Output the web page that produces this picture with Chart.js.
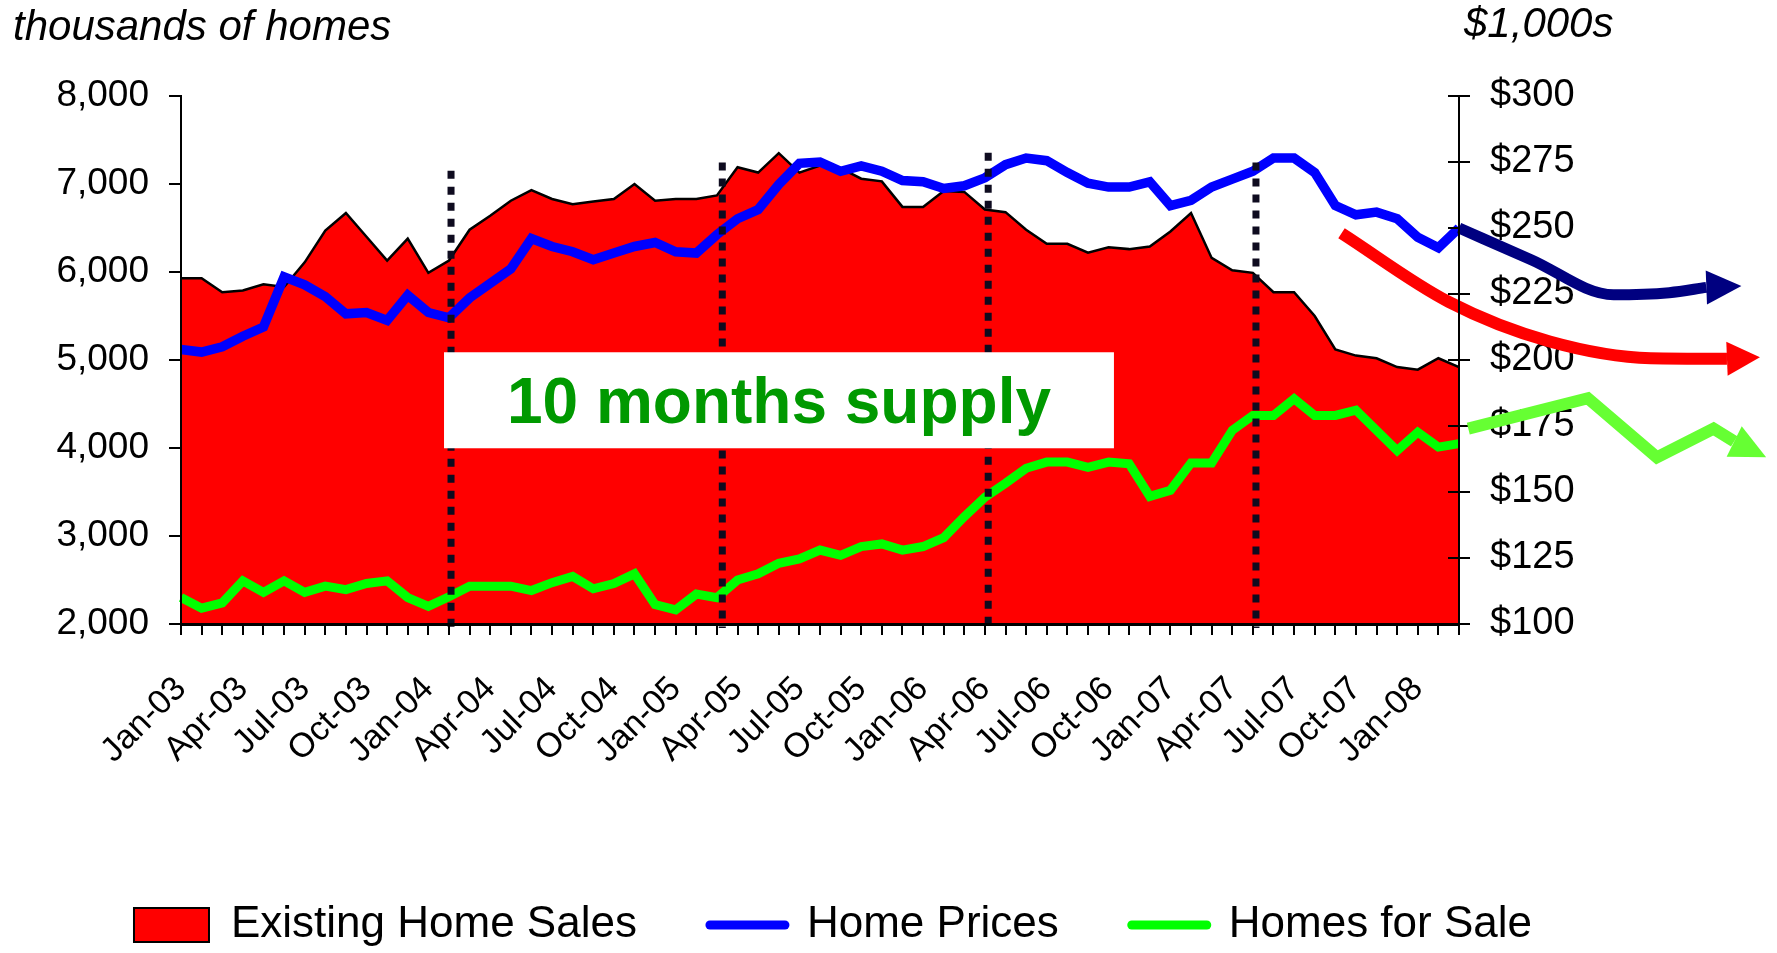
<!DOCTYPE html>
<html>
<head>
<meta charset="utf-8">
<script src="https://cdn.jsdelivr.net/npm/chart.js@4.4.1/dist/chart.umd.min.js"></script>
<style>
  html, body { margin: 0; padding: 0; background: #ffffff; overflow: hidden; }
  #wrap { width: 1777px; height: 953px; position: relative; }
</style>
</head>
<body>
<div id="wrap"><canvas id="chart"></canvas></div>
<script>
// ---------------- data ----------------
const months = [
  'Jan-03','Feb-03','Mar-03','Apr-03','May-03','Jun-03','Jul-03','Aug-03','Sep-03','Oct-03','Nov-03','Dec-03',
  'Jan-04','Feb-04','Mar-04','Apr-04','May-04','Jun-04','Jul-04','Aug-04','Sep-04','Oct-04','Nov-04','Dec-04',
  'Jan-05','Feb-05','Mar-05','Apr-05','May-05','Jun-05','Jul-05','Aug-05','Sep-05','Oct-05','Nov-05','Dec-05',
  'Jan-06','Feb-06','Mar-06','Apr-06','May-06','Jun-06','Jul-06','Aug-06','Sep-06','Oct-06','Nov-06','Dec-06',
  'Jan-07','Feb-07','Mar-07','Apr-07','May-07','Jun-07','Jul-07','Aug-07','Sep-07','Oct-07','Nov-07','Dec-07',
  'Jan-08','Feb-08','Mar-08'
];

// thousands of homes (left axis)
const existingHomeSales = [
  5930,5930,5770,5790,5860,5830,6110,6470,6670,6400,
  6130,6380,5990,6130,6480,6640,6810,6930,6830,6770,
  6800,6830,7000,6810,6830,6830,6870,7190,7130,7350,
  7130,7210,7180,7060,7030,6740,6740,6920,6910,6710,
  6680,6480,6320,6320,6220,6280,6260,6290,6460,6670,
  6160,6020,5990,5770,5770,5500,5120,5050,5020,4920,
  4890,5020,4920
];

// $1,000s (right axis)
const homePrices = [
  204,203,205,209,212.5,231.5,228.5,224,217.5,218,
  215,224.5,218,216,223.5,229,234.5,246,243,241,
  238,240.5,243,244.5,241,240.5,247.5,253.5,257,266.5,
  274.5,275,271.5,273.5,271.5,268,267.5,265,266,269,
  274,276.5,275.5,271,267,265.5,265.5,267.5,258.5,260.5,
  265.5,268.5,271.5,276.5,276.5,271,258.5,255,256,253.5,
  246.5,242.5,250
];

// thousands of homes (left axis)
const homesForSale = [
  2300,2180,2240,2490,2360,2490,2360,2430,2390,2460,
  2490,2300,2200,2310,2430,2430,2430,2380,2470,2540,
  2400,2460,2570,2220,2160,2340,2300,2500,2570,2690,
  2740,2840,2780,2880,2910,2840,2880,2980,3220,3440,
  3600,3770,3840,3840,3780,3840,3820,3450,3520,3830,
  3830,4200,4370,4370,4560,4370,4370,4430,4200,3970,
  4180,4010,4050
];

// forecast arrows (month position, value)
const priceForecastMonths = [62, 65.5, 69.5, 72.2, 74.0];
const priceForecast       = [250, 238, 224.7, 225.5, 227.5];
const priceForecastTip    = [75.7, 228];

const salesForecastMonths = [56.3, 61.5, 66.4, 71.3, 75.0];
const salesForecast       = [248, 222, 207, 200.7, 200.5];
const salesForecastTip    = [76.6, 201];

const supplyForecastMonths = [62.45, 68.25, 71.6, 74.35, 75.35];
const supplyForecast       = [4220, 4565, 3895, 4220, 4075];
const supplyForecastTip    = [76.9, 3895];

// axis tick values
const leftTicks  = [2000, 3000, 4000, 5000, 6000, 7000, 8000];
const rightTicks = [100, 125, 150, 175, 200, 225, 250, 275, 300];

// annotations
const dividerMonths = [13.1, 26.26, 39.16, 52.15];
const dividerTops   = [7150, 7245, 7355, 7245];
const noteText = '10 months supply';
const noteBox = { from: 12.76, to: 45.26, top: 5088, bottom: 3997 };

const seriesNames = ['Existing Home Sales', 'Home Prices', 'Homes for Sale'];

// ---------------- styling ----------------
const SANS = "'Liberation Sans', Arial, sans-serif";
const RED = '#ff0000', BLUE = '#0000ff', GREEN = '#00ff00';
const NAVY = '#000080', LIME = '#66ff33';

const toXY = (xs, ys) => xs.map((v, i) => ({ x: v, y: ys[i] }));
const idx = months.map((m, i) => i);

const forecastBase = {
  pointRadius: 0, fill: false, clip: false, capBezierPoints: false, order: 0
};

const overlay = {
  id: 'overlay',
  afterDatasetsDraw(chart) {
    const { ctx, chartArea, scales } = chart;
    const x = scales.x, y = scales.y, y2 = scales.y2;
    ctx.save();

    // dotted dividers
    ctx.strokeStyle = '#0e0b1f';
    ctx.lineWidth = 7;
    ctx.setLineDash([8, 8]);
    dividerMonths.forEach((m, k) => {
      const px = x.getPixelForValue(m);
      ctx.beginPath();
      ctx.moveTo(px, y.getPixelForValue(dividerTops[k]));
      ctx.lineTo(px, chartArea.bottom + 4);
      ctx.stroke();
    });
    ctx.setLineDash([]);

    // note box
    const bx1 = x.getPixelForValue(noteBox.from), bx2 = x.getPixelForValue(noteBox.to);
    const by1 = y.getPixelForValue(noteBox.top), by2 = y.getPixelForValue(noteBox.bottom);
    ctx.fillStyle = '#ffffff';
    ctx.fillRect(bx1, by1, bx2 - bx1, by2 - by1);
    ctx.fillStyle = '#009900';
    ctx.font = 'bold 64px ' + SANS;
    ctx.textAlign = 'center';
    ctx.textBaseline = 'alphabetic';
    ctx.fillText(noteText, (bx1 + bx2) / 2, (by1 + by2) / 2 + 23);

    // arrowheads
    const heads = [
      { ds: 3, tip: priceForecastTip, axis: y2, color: NAVY },
      { ds: 4, tip: salesForecastTip, axis: y2, color: RED },
      { ds: 5, tip: supplyForecastTip, axis: y, color: LIME }
    ];
    heads.forEach(h => {
      const pts = chart.getDatasetMeta(h.ds).data;
      const base = pts[pts.length - 1];
      const tx = x.getPixelForValue(h.tip[0]), ty = h.axis.getPixelForValue(h.tip[1]);
      const dx = tx - base.x, dy = ty - base.y;
      const len = Math.hypot(dx, dy) || 1;
      const nx = -dy / len * 17, ny = dx / len * 17;
      ctx.fillStyle = h.color;
      ctx.beginPath();
      ctx.moveTo(base.x + nx, base.y + ny);
      ctx.lineTo(tx, ty);
      ctx.lineTo(base.x - nx, base.y - ny);
      ctx.closePath();
      ctx.fill();
    });

    // inner tick marks of right axis
    ctx.strokeStyle = '#000';
    ctx.lineWidth = 2;
    y2.ticks.forEach((t, i) => {
      const py = y2.getPixelForTick(i);
      ctx.beginPath();
      ctx.moveTo(chartArea.right, py);
      ctx.lineTo(chartArea.right - 11, py);
      ctx.stroke();
    });

    // axis unit titles
    ctx.fillStyle = '#000';
    ctx.textAlign = 'left';
    ctx.textBaseline = 'alphabetic';
    ctx.font = 'italic 42px ' + SANS;
    ctx.fillText('thousands of homes', 13, 40);
    ctx.fillText('$1,000s', chartArea.right + 5, 37);
    ctx.restore();
  }
};

new Chart(document.getElementById('chart'), {
  type: 'line',
  data: {
    datasets: [
      {
        label: seriesNames[0],
        data: toXY(idx, existingHomeSales),
        yAxisID: 'y',
        borderColor: '#000000', borderWidth: 2.5,
        backgroundColor: RED, fill: 'start',
        pointRadius: 0, tension: 0, order: 10
      },
      {
        label: seriesNames[1],
        data: toXY(idx, homePrices),
        yAxisID: 'y2',
        borderColor: BLUE, borderWidth: 9.5,
        pointRadius: 0, tension: 0, fill: false, order: 2
      },
      {
        label: seriesNames[2],
        data: toXY(idx, homesForSale),
        yAxisID: 'y',
        borderColor: GREEN, borderWidth: 9,
        pointRadius: 0, tension: 0, fill: false, order: 3
      },
      Object.assign({
        label: 'price forecast',
        data: toXY(priceForecastMonths, priceForecast),
        yAxisID: 'y2', borderColor: NAVY, borderWidth: 11,
        cubicInterpolationMode: 'monotone', borderJoinStyle: 'round'
      }, forecastBase),
      Object.assign({
        label: 'sales forecast',
        data: toXY(salesForecastMonths, salesForecast),
        yAxisID: 'y2', borderColor: RED, borderWidth: 12,
        cubicInterpolationMode: 'monotone', borderJoinStyle: 'round'
      }, forecastBase),
      Object.assign({
        label: 'supply forecast',
        data: toXY(supplyForecastMonths, supplyForecast),
        yAxisID: 'y', borderColor: LIME, borderWidth: 12, tension: 0,
        borderJoinStyle: 'miter'
      }, forecastBase)
    ]
  },
  options: {
    responsive: true,
    maintainAspectRatio: false,
    devicePixelRatio: 1,
    animation: false,
    events: [],
    layout: { padding: { top: 96, right: 111, bottom: 0, left: 0 } },
    scales: {
      x: {
        type: 'linear',
        bounds: 'data',
        afterDataLimits: s => { s.min = 0; s.max = months.length - 1; },
        afterBuildTicks: s => {
          s.min = 0; s.max = months.length - 1;
          s.ticks = idx.map(i => ({ value: i }));
        },
        afterFit: s => { s.height = 206; },
        ticks: {
          autoSkip: false, minRotation: 45, maxRotation: 45, padding: 34,
          color: '#000', font: { family: SANS, size: 34 },
          callback: v => (v % 3 === 0 ? months[v] : '')
        },
        grid: { drawOnChartArea: false, drawTicks: true, tickLength: 11, color: '#000', lineWidth: 2, z: 1 },
        border: { display: true, color: '#000', width: 3, z: 1 }
      },
      y: {
        position: 'left', min: 2000, max: 8000,
        afterBuildTicks: s => { s.ticks = leftTicks.map(v => ({ value: v })); },
        afterFit: s => { s.width = 181; },
        ticks: {
          color: '#000', padding: 20, font: { family: SANS, size: 37 },
          callback: v => v.toLocaleString('en-US')
        },
        grid: { drawOnChartArea: false, tickLength: 12, color: '#000', lineWidth: 2 },
        border: { display: true, color: '#000', width: 2, z: 1 }
      },
      y2: {
        position: 'right', min: 100, max: 300,
        afterBuildTicks: s => { s.ticks = rightTicks.map(v => ({ value: v })); },
        afterFit: s => { s.width = 207; },
        ticks: {
          color: '#000', padding: 20, font: { family: SANS, size: 38 },
          callback: v => '$' + v
        },
        grid: { drawOnChartArea: false, tickLength: 11, color: '#000', lineWidth: 2 },
        border: { display: true, color: '#000', width: 2, z: 1 }
      }
    },
    plugins: {
      tooltip: { enabled: false },
      title: { display: false },
      legend: {
        position: 'bottom',
        maxHeight: 123,
        labels: {
          usePointStyle: true, pointStyleWidth: 75, boxHeight: 34, padding: 73,
          color: '#000', font: { family: SANS, size: 44 },
          generateLabels: () => [
            { text: seriesNames[0], pointStyle: 'rect', fillStyle: RED, strokeStyle: '#000', lineWidth: 2, datasetIndex: 0, fontColor: '#000' },
            { text: seriesNames[1], pointStyle: 'line', fillStyle: BLUE, strokeStyle: BLUE, lineWidth: 9, lineCap: 'round', datasetIndex: 1, fontColor: '#000' },
            { text: seriesNames[2], pointStyle: 'line', fillStyle: GREEN, strokeStyle: GREEN, lineWidth: 9, lineCap: 'round', datasetIndex: 2, fontColor: '#000' }
          ]
        }
      }
    }
  },
  plugins: [overlay]
});
</script>
</body>
</html>
